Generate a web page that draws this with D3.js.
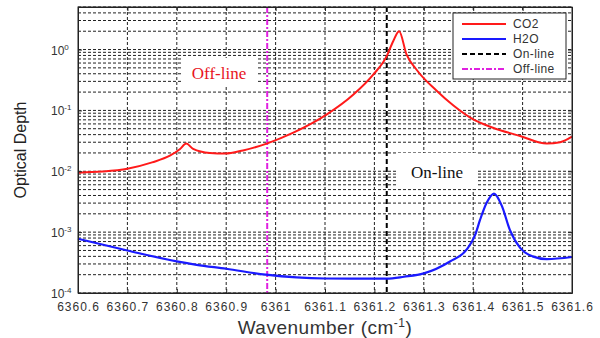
<!DOCTYPE html>
<html>
<head>
<meta charset="utf-8">
<script src="https://cdn.jsdelivr.net/npm/d3@7"></script>
<style>
  body { margin: 0; background: #fff; }
  svg { display: block; }
  .grid line { stroke: #222; stroke-width: 1; stroke-dasharray: 3,2; }
  .axis text { font-family: "Liberation Sans", Arial, sans-serif; font-size: 12px; fill: #333; letter-spacing: 1px; }
  .axis path, .axis line { stroke: #222; }
</style>
</head>
<body>
<svg id="chart"></svg>
<script>
// data
var co2Wn = [6360.6, 6360.65, 6360.7, 6360.75, 6360.786, 6360.806, 6360.819, 6360.833, 6360.867, 6360.898, 6360.934, 6360.982,
             6361.036, 6361.103, 6361.157, 6361.198, 6361.225, 6361.238, 6361.25, 6361.265, 6361.285, 6361.326, 6361.36,
             6361.4, 6361.44, 6361.495, 6361.549, 6361.576, 6361.6];
var co2Od = [0.0095, 0.0099, 0.011, 0.014, 0.018, 0.023, 0.0285, 0.0234, 0.020, 0.0195, 0.022, 0.0285,
             0.043, 0.085, 0.18, 0.39, 0.78, 1.37, 2.0, 0.83, 0.47, 0.21, 0.12,
             0.071, 0.052, 0.038, 0.0285, 0.030, 0.037];

var h2oWn = [6360.6, 6360.7, 6360.8, 6360.84, 6360.9, 6360.98, 6361.1, 6361.225, 6361.26, 6361.3, 6361.353, 6361.387,
             6361.404, 6361.414, 6361.427, 6361.442, 6361.458, 6361.474, 6361.495, 6361.52, 6361.549, 6361.6];
var h2oOd = [7.8e-4, 5.0e-4, 3.3e-4, 2.9e-4, 2.5e-4, 2.0e-4, 1.73e-4, 1.72e-4, 1.85e-4, 2.1e-4, 3.3e-4, 5.2e-4,
             9.0e-4, 1.6e-3, 3.0e-3, 4.3e-3, 2.7e-3, 1.1e-3, 5.5e-4, 4.0e-4, 3.6e-4, 3.9e-4];

var onLine = 6361.225;
var offLine = 6360.983;

var xDomain = [6360.6, 6361.6];
var yDomain = [1e-4, 5];
var xTicks = [6360.6, 6360.7, 6360.8, 6360.9, 6361, 6361.1, 6361.2, 6361.3, 6361.4, 6361.5, 6361.6];
var yDecades = [1e-4, 1e-3, 1e-2, 1e-1, 1];
var yExponents = ["-4", "-3", "-2", "-1", "0"];

var legendNames = ["CO2", "H2O", "On-line", "Off-line"];
var legendColors = ["#ff1a1a", "#1a1aff", "#000", "#e020e0"];
var legendDash = [null, null, "5,3", "6,2,2,2"];

// set the dimensions and margins of the graph
var margin = {top: 7, right: 28, bottom: 45, left: 78},
    width = 600 - margin.left - margin.right,
    height = 338 - margin.top - margin.bottom;

var x = d3.scaleLinear().domain(xDomain).range([0, width]);
var y = d3.scaleLog().domain(yDomain).range([height, 0]);

var svg = d3.select("#chart")
    .attr("width", 600)
    .attr("height", 338)
  .append("g")
    .attr("transform", "translate(" + margin.left + "," + margin.top + ")");

// grid
svg.append("g").attr("class", "grid")
  .selectAll("line").data(y.ticks()).enter().append("line")
    .attr("x1", 0).attr("x2", width)
    .attr("y1", function(d) { return y(d); })
    .attr("y2", function(d) { return y(d); });

svg.append("g").attr("class", "grid")
  .selectAll("line").data(xTicks.slice(1, -1)).enter().append("line")
    .attr("y1", 0).attr("y2", height)
    .attr("x1", function(d) { return x(d); })
    .attr("x2", function(d) { return x(d); });

// text boxes with white background
svg.append("rect").attr("x", 104).attr("y", 51).attr("width", 75).attr("height", 27).attr("fill", "#fff");
svg.append("rect").attr("x", 320).attr("y", 146).attr("width", 78).attr("height", 36).attr("fill", "#fff");

// marker lines
svg.append("line")
  .attr("x1", x(offLine)).attr("x2", x(offLine)).attr("y1", 0).attr("y2", height)
  .attr("stroke", legendColors[3]).attr("stroke-width", 2).attr("stroke-dasharray", legendDash[3]);
svg.append("line")
  .attr("x1", x(onLine)).attr("x2", x(onLine)).attr("y1", 0).attr("y2", height)
  .attr("stroke", legendColors[2]).attr("stroke-width", 2).attr("stroke-dasharray", legendDash[2]);

// curves
var line = d3.line()
  .x(function(d) { return x(d[0]); })
  .y(function(d) { return y(d[1]); })
  .curve(d3.curveMonotoneX);

svg.append("path")
  .datum(d3.zip(co2Wn, co2Od))
  .attr("fill", "none").attr("stroke", legendColors[0]).attr("stroke-width", 2)
  .attr("d", line);

svg.append("path")
  .datum(d3.zip(h2oWn, h2oOd))
  .attr("fill", "none").attr("stroke", legendColors[1]).attr("stroke-width", 2.2)
  .attr("d", line);

// axes
svg.append("g").attr("class", "axis")
  .attr("transform", "translate(0," + height + ")")
  .call(d3.axisBottom(x).tickValues(xTicks).tickSizeInner(-4).tickSizeOuter(0).tickPadding(9)
    .tickFormat(function(d) { return String(+d.toFixed(1)); }));

svg.append("g").attr("class", "axis")
  .call(d3.axisTop(x).tickValues(xTicks).tickSizeInner(-4).tickSizeOuter(0).tickFormat(""));

svg.append("g").attr("class", "axis")
  .call(d3.axisLeft(y).tickValues(yDecades).tickSizeInner(-4).tickSizeOuter(0).tickFormat(""));

svg.append("g").attr("class", "axis")
  .attr("transform", "translate(" + width + ",0)")
  .call(d3.axisRight(y).tickValues(yDecades).tickSizeInner(-4).tickSizeOuter(0).tickFormat(""));

svg.append("rect").attr("width", width).attr("height", height)
  .attr("fill", "none").attr("stroke", "#222").attr("stroke-width", 1);

// y tick labels as 10^n
var yLab = svg.append("g").attr("class", "axis");
yDecades.forEach(function(d, i) {
  var t = yLab.append("text")
    .attr("x", -27).attr("y", y(d) + 5)
    .attr("text-anchor", "start")
    .style("letter-spacing", "0px");
  t.append("tspan").text("10");
  t.append("tspan").attr("dy", -5).attr("font-size", "8px").text(yExponents[i]);
});

// axis titles
svg.append("text")
  .attr("x", width / 2).attr("y", height + 41)
  .attr("text-anchor", "middle")
  .style("font-family", "Liberation Sans, Arial, sans-serif").style("font-size", "19px").attr("fill", "#333")
  .style("letter-spacing", "0.5px")
  .text("Wavenumber (cm")
  .append("tspan").attr("dy", -7).style("font-size", "12px").text("-1")
  .select(function() { return this.parentNode; })
  .append("tspan").attr("dy", 7).style("font-size", "19px").text(")");

svg.append("text")
  .attr("transform", "translate(-52," + (height / 2) + ") rotate(-90)")
  .attr("text-anchor", "middle")
  .style("font-family", "Liberation Sans, Arial, sans-serif").style("font-size", "16px").attr("fill", "#222")
  .text("Optical Depth");

// annotations
svg.append("text").attr("x", 141).attr("y", 72).attr("text-anchor", "middle")
  .style("font-family", "Liberation Serif, Times New Roman, serif").style("font-size", "17px")
  .attr("fill", "#e8141c").text("Off-line");
svg.append("text").attr("x", 359).attr("y", 171).attr("text-anchor", "middle")
  .style("font-family", "Liberation Serif, Times New Roman, serif").style("font-size", "17px")
  .attr("fill", "#111").text("On-line");

// legend
var lg = svg.append("g").attr("transform", "translate(375,6)");
lg.append("rect").attr("width", 113).attr("height", 66)
  .attr("fill", "#fff").attr("stroke", "#222").attr("stroke-width", 1);
legendNames.forEach(function(name, i) {
  var yy = 11 + i * 15;
  lg.append("line").attr("x1", 9).attr("x2", 53).attr("y1", yy).attr("y2", yy)
    .attr("stroke", legendColors[i]).attr("stroke-width", 2)
    .attr("stroke-dasharray", legendDash[i]);
  lg.append("text").attr("x", 60).attr("y", yy + 4)
    .style("font-family", "Liberation Sans, Arial, sans-serif").style("font-size", "12px")
    .style("letter-spacing", "0.4px")
    .attr("fill", "#333").text(name);
});
</script>
</body>
</html>
